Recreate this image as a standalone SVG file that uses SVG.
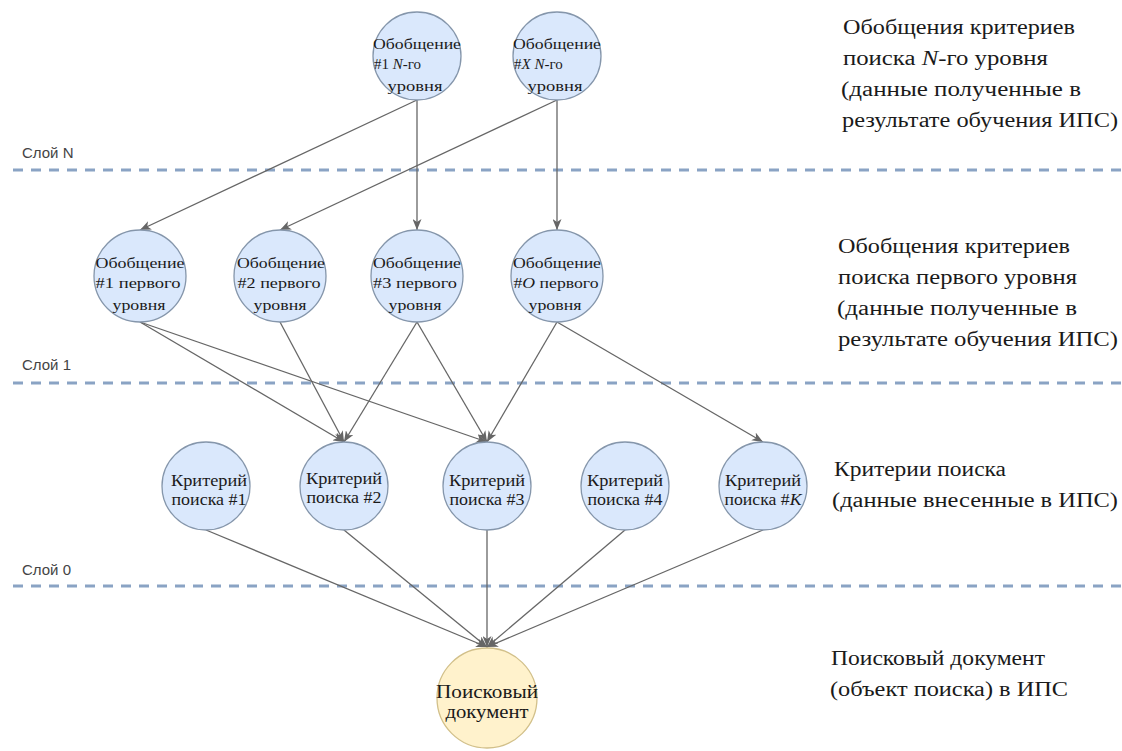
<svg xmlns="http://www.w3.org/2000/svg" width="1122" height="751" viewBox="0 0 1122 751">
<style>
.bg{fill:#ffffff}
.node{fill:#dae8fc;stroke:#8596ab;stroke-width:1.3}
.doc{fill:#fff2cc;stroke:#d2c08a;stroke-width:1.3}
text{font-family:"Liberation Serif","Times New Roman",serif;fill:#1a1a1a}
.nt{font-size:15px}
.ct{font-size:17px}
.dt{font-size:18px}
.lbl{font-size:20px}
.layer{font-family:"Liberation Sans",Arial,sans-serif;font-size:15px;fill:#444}
.dash{stroke:#8aa3c4;stroke-width:3;stroke-dasharray:10 8;fill:none}
.edge{stroke:#666;stroke-width:1.3;fill:none;marker-end:url(#arr)}
.mid{text-anchor:middle}
</style>
<defs>
<marker id="arr" viewBox="0 0 11 9" refX="11" refY="4.5" markerWidth="11" markerHeight="9" markerUnits="userSpaceOnUse" orient="auto">
<path d="M0,0 L11,4.5 L0,9 L3,4.5 z" fill="#666"/>
</marker>
</defs>
<rect class="bg" x="0" y="0" width="1122" height="751"/>

<g id="layers">
<line class="dash" x1="13" y1="170" x2="1122" y2="170"/>
<text class="layer" x="22" y="158">Слой N</text>
<line class="dash" x1="13" y1="383" x2="1122" y2="383"/>
<text class="layer" x="22" y="370">Слой 1</text>
<line class="dash" x1="13" y1="586" x2="1122" y2="586"/>
<text class="layer" x="22" y="575">Слой 0</text>
</g>

<g id="connectors">
<line class="edge" x1="417" y1="100" x2="140" y2="230"/>
<line class="edge" x1="417" y1="100" x2="417" y2="230"/>
<line class="edge" x1="557" y1="100" x2="280" y2="230"/>
<line class="edge" x1="557" y1="100" x2="557" y2="230"/>
<line class="edge" x1="140" y1="322" x2="344" y2="442"/>
<line class="edge" x1="140" y1="322" x2="487" y2="442"/>
<line class="edge" x1="280" y1="322" x2="344" y2="442"/>
<line class="edge" x1="417" y1="322" x2="344" y2="442"/>
<line class="edge" x1="417" y1="322" x2="487" y2="442"/>
<line class="edge" x1="557" y1="322" x2="487" y2="442"/>
<line class="edge" x1="557" y1="322" x2="763" y2="442"/>
<line class="edge" x1="206" y1="530" x2="487" y2="647"/>
<line class="edge" x1="344" y1="530" x2="487" y2="647"/>
<line class="edge" x1="487" y1="530" x2="487" y2="647"/>
<line class="edge" x1="625" y1="530" x2="487" y2="647"/>
<line class="edge" x1="763" y1="530" x2="487" y2="647"/>
</g>

<g id="n-top1">
<circle class="node" cx="417" cy="56" r="44"/>
<text class="nt mid" x="417" y="49" textLength="88" lengthAdjust="spacingAndGlyphs">Обобщение</text>
<text class="nt" x="374" y="69">#1 <tspan font-style="italic">N</tspan>-го</text>
<text class="nt mid" x="415" y="91" textLength="55" lengthAdjust="spacingAndGlyphs">уровня</text>
</g>
<g id="n-top2">
<circle class="node" cx="557" cy="56" r="44"/>
<text class="nt mid" x="557" y="49" textLength="88" lengthAdjust="spacingAndGlyphs">Обобщение</text>
<text class="nt" x="514" y="69">#<tspan font-style="italic">X</tspan> <tspan font-style="italic">N</tspan>-го</text>
<text class="nt mid" x="555" y="91" textLength="55" lengthAdjust="spacingAndGlyphs">уровня</text>
</g>

<g id="n-mid1">
<circle class="node" cx="140" cy="276" r="46"/>
<text class="nt mid" x="140" y="268" textLength="89" lengthAdjust="spacingAndGlyphs">Обобщение</text>
<text class="nt mid" x="138" y="288" textLength="85" lengthAdjust="spacingAndGlyphs">#1 первого</text>
<text class="nt mid" x="139" y="310" textLength="53" lengthAdjust="spacingAndGlyphs">уровня</text>
</g>
<g id="n-mid2">
<circle class="node" cx="280" cy="276" r="46"/>
<text class="nt mid" x="281" y="268" textLength="88" lengthAdjust="spacingAndGlyphs">Обобщение</text>
<text class="nt mid" x="279" y="288" textLength="83" lengthAdjust="spacingAndGlyphs">#2 первого</text>
<text class="nt mid" x="280" y="310" textLength="53" lengthAdjust="spacingAndGlyphs">уровня</text>
</g>
<g id="n-mid3">
<circle class="node" cx="417" cy="276" r="46"/>
<text class="nt mid" x="417" y="268" textLength="88" lengthAdjust="spacingAndGlyphs">Обобщение</text>
<text class="nt mid" x="415" y="288" textLength="84" lengthAdjust="spacingAndGlyphs">#3 первого</text>
<text class="nt mid" x="415" y="310" textLength="53" lengthAdjust="spacingAndGlyphs">уровня</text>
</g>
<g id="n-mid4">
<circle class="node" cx="557" cy="276" r="46"/>
<text class="nt mid" x="557" y="268" textLength="88" lengthAdjust="spacingAndGlyphs">Обобщение</text>
<text class="nt mid" x="556" y="288" textLength="85" lengthAdjust="spacingAndGlyphs">#<tspan font-style="italic">O</tspan> первого</text>
<text class="nt mid" x="555" y="310" textLength="53" lengthAdjust="spacingAndGlyphs">уровня</text>
</g>

<g id="n-crit1">
<circle class="node" cx="206" cy="486" r="44"/>
<text class="ct mid" x="209" y="486" textLength="76" lengthAdjust="spacingAndGlyphs">Критерий</text>
<text class="ct mid" x="209" y="505" textLength="75" lengthAdjust="spacingAndGlyphs">поиска #1</text>
</g>
<g id="n-crit2">
<circle class="node" cx="344" cy="486" r="44"/>
<text class="ct mid" x="344" y="484" textLength="76" lengthAdjust="spacingAndGlyphs">Критерий</text>
<text class="ct mid" x="344" y="503" textLength="75" lengthAdjust="spacingAndGlyphs">поиска #2</text>
</g>
<g id="n-crit3">
<circle class="node" cx="487" cy="486" r="44"/>
<text class="ct mid" x="487" y="486" textLength="76" lengthAdjust="spacingAndGlyphs">Критерий</text>
<text class="ct mid" x="487" y="505" textLength="75" lengthAdjust="spacingAndGlyphs">поиска #3</text>
</g>
<g id="n-crit4">
<circle class="node" cx="625" cy="486" r="44"/>
<text class="ct mid" x="625" y="486" textLength="76" lengthAdjust="spacingAndGlyphs">Критерий</text>
<text class="ct mid" x="625" y="505" textLength="75" lengthAdjust="spacingAndGlyphs">поиска #4</text>
</g>
<g id="n-critK">
<circle class="node" cx="763" cy="486" r="44"/>
<text class="ct mid" x="763" y="486" textLength="76" lengthAdjust="spacingAndGlyphs">Критерий</text>
<text class="ct mid" x="763" y="505" textLength="77" lengthAdjust="spacingAndGlyphs">поиска #<tspan font-style="italic">K</tspan></text>
</g>

<g id="n-doc">
<circle class="doc" cx="487" cy="698" r="50"/>
<text class="dt mid" x="487" y="698" textLength="102" lengthAdjust="spacingAndGlyphs">Поисковый</text>
<text class="dt mid" x="487" y="718" textLength="83" lengthAdjust="spacingAndGlyphs">документ</text>
</g>

<g id="labels">
<text class="lbl" x="843" y="34" textLength="232" lengthAdjust="spacingAndGlyphs">Обобщения критериев</text>
<text class="lbl" x="843" y="65" textLength="205" lengthAdjust="spacingAndGlyphs">поиска <tspan font-style="italic">N</tspan>-го уровня</text>
<text class="lbl" x="841" y="96" textLength="240" lengthAdjust="spacingAndGlyphs">(данные полученные в</text>
<text class="lbl" x="842" y="127" textLength="276" lengthAdjust="spacingAndGlyphs">результате обучения ИПС)</text>
<text class="lbl" x="838" y="253" textLength="232" lengthAdjust="spacingAndGlyphs">Обобщения критериев</text>
<text class="lbl" x="838" y="284" textLength="239" lengthAdjust="spacingAndGlyphs">поиска первого уровня</text>
<text class="lbl" x="837" y="315" textLength="240" lengthAdjust="spacingAndGlyphs">(данные полученные в</text>
<text class="lbl" x="838" y="346" textLength="280" lengthAdjust="spacingAndGlyphs">результате обучения ИПС)</text>
<text class="lbl" x="834" y="476" textLength="172" lengthAdjust="spacingAndGlyphs">Критерии поиска</text>
<text class="lbl" x="832" y="507" textLength="286" lengthAdjust="spacingAndGlyphs">(данные внесенные в ИПС)</text>
<text class="lbl" x="831" y="665" textLength="214" lengthAdjust="spacingAndGlyphs">Поисковый документ</text>
<text class="lbl" x="830" y="696" textLength="238" lengthAdjust="spacingAndGlyphs">(объект поиска) в ИПС</text>
</g>
</svg>
